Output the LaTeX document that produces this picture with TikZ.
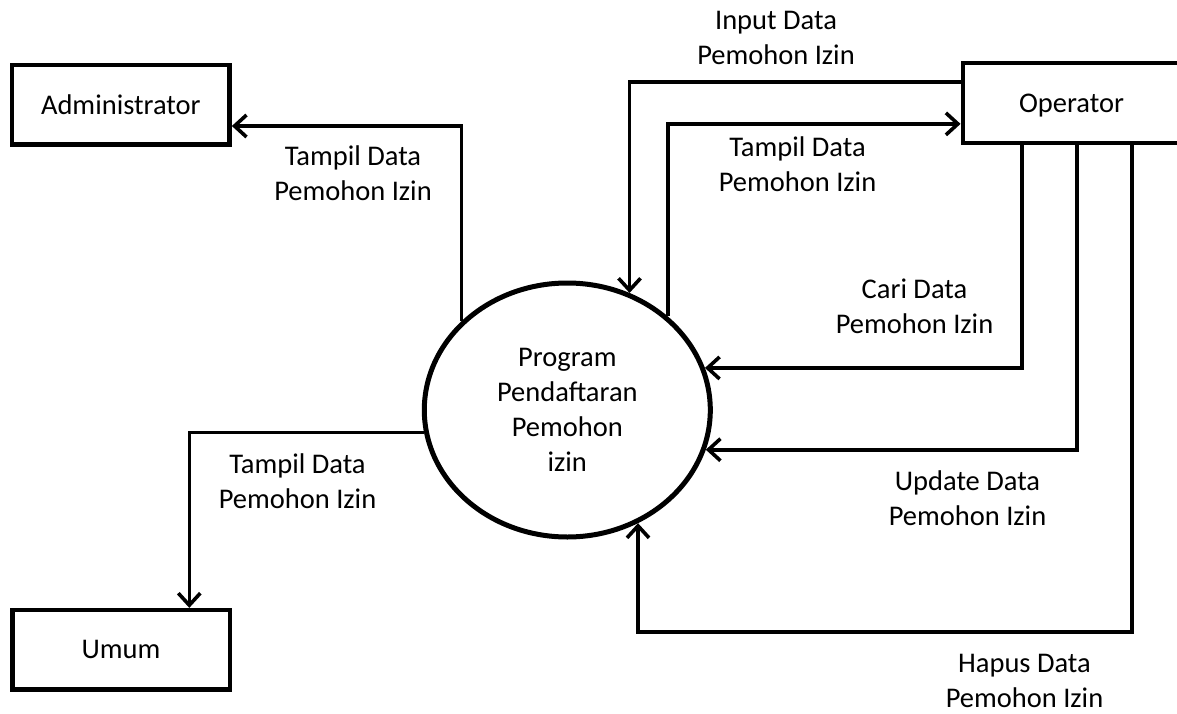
\documentclass[tikz,border=0pt]{standalone}
\usepackage{fontspec}
\setmainfont{Carlito}
\usetikzlibrary{arrows.meta,shapes.geometric}
\begin{document}
\begin{tikzpicture}[x=1pt,y=-1pt,
  font=\fontsize{28.5}{35}\selectfont,
  box/.style={draw, line width=4.5pt, minimum width=217.5pt, minimum height=79.5pt, inner sep=0pt},
  proc/.style={ellipse, draw, line width=5pt, minimum width=286pt, minimum height=254pt, inner sep=0pt, align=center},
  lbl/.style={align=center, inner sep=0pt},
  flow/.style={line width=3.6pt, -{Straight Barb[length=12pt,width=22pt]}}]
\useasboundingbox (0,0) rectangle (1177,714);
\clip (0,0) rectangle (1177,714);
\fill[white] (0,0) rectangle (1177,714);
% entities and process
\node[box] (admin) at (120.85,105) {Administrator};
\node[box] (umum) at (121,649.85) {Umum};
\node[box, minimum width=217.4pt, minimum height=79.8pt, text depth=0pt] (op) at (1071.5,102.9) {Operator};
\node[proc] (prog) at (567.3,410) {Program\\Pendaftaran\\Pemohon\\izin};
% labels
\node[lbl] (l1) at (353,173) {Tampil Data\\Pemohon Izin};
\node[lbl] (l2) at (776,37.7) {Input Data\\Pemohon Izin};
\node[lbl] (l3) at (797.5,164.7) {Tampil Data\\Pemohon Izin};
\node[lbl] (l4) at (914.5,306.7) {Cari Data\\Pemohon Izin};
\node[lbl] (l5) at (967.5,498.2) {Update Data\\Pemohon Izin};
\node[lbl] (l6) at (1024.5,680.5) {Hapus Data\\Pemohon Izin};
\node[lbl] (l7) at (297.5,480.7) {Tampil Data\\Pemohon Izin};
% flows
\draw[flow] (prog.140) |- ([yshift=-21pt]admin.east);
\draw[flow] ([yshift=21pt]op.west) -| (prog.62);
\draw[flow] (prog.43) |- ([yshift=-21pt]op.west);
\draw[flow] ([xshift=-49.8pt]op.south) |- (prog.17);
\draw[flow] ([xshift=5.2pt]op.south) |- (prog.344);
\coordinate (hb) at (0,632);
\draw[flow] ([xshift=60.2pt]op.south) |- (prog.302 |- hb) -- (prog.302);
\draw[flow] (prog.189) -| ([xshift=68.3pt]umum.north);
\end{tikzpicture}
\end{document}
